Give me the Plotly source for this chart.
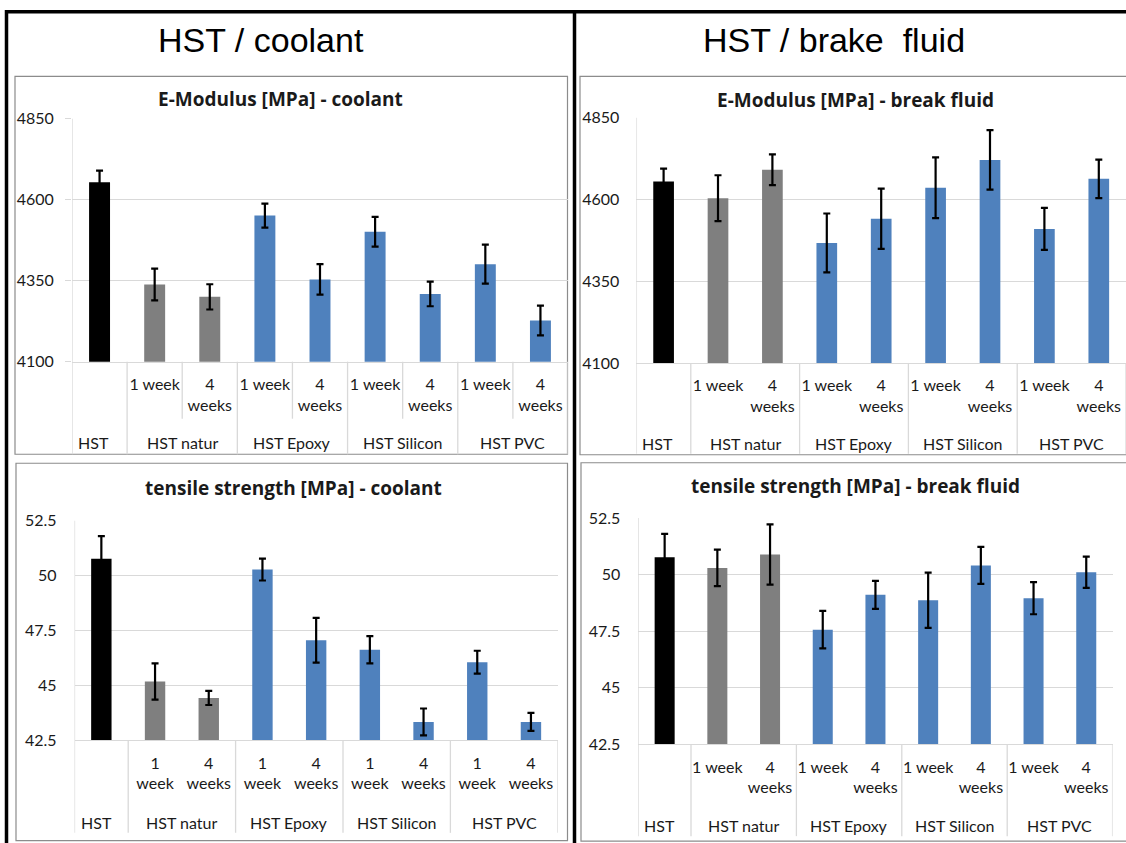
import plotly.graph_objects as go

W, H = 1126, 863

# ---------------- data ----------------
groups = ["HST", "HST natur", "HST Epoxy", "HST Silicon", "HST PVC"]
group_sizes = [1, 2, 2, 2, 2]

sub_labels_top = ["", "1 week", "4<br>weeks", "1 week", "4<br>weeks",
                  "1 week", "4<br>weeks", "1 week", "4<br>weeks"]
sub_labels_bl = ["", "1<br>week", "4<br>weeks", "1<br>week", "4<br>weeks",
                 "1<br>week", "4<br>weeks", "1<br>week", "4<br>weeks"]
sub_labels_br = sub_labels_top

bar_colors = ["#000000", "#7f7f7f", "#7f7f7f", "#4f81bd", "#4f81bd",
              "#4f81bd", "#4f81bd", "#4f81bd", "#4f81bd"]

emod_coolant = [4654, 4338, 4300, 4551, 4354, 4501, 4309, 4401, 4227]
emod_coolant_err = [36, 49, 39, 37, 47, 46, 38, 60, 46]
emod_brake = [4655, 4604, 4691, 4467, 4541, 4636, 4721, 4510, 4663]
emod_brake_err = [39, 70, 47, 90, 92, 93, 91, 64, 59]
ts_coolant = [50.77, 45.18, 44.43, 50.28, 47.06, 46.63, 43.34, 46.06, 43.34]
ts_coolant_err = [1.03, 0.83, 0.32, 0.50, 1.02, 0.62, 0.61, 0.52, 0.41]
ts_brake = [50.77, 50.30, 50.89, 47.57, 49.11, 48.87, 50.41, 48.96, 50.11]
ts_brake_err = [1.03, 0.81, 1.33, 0.83, 0.62, 1.22, 0.82, 0.71, 0.69]

emod_ticks = [4100, 4350, 4600, 4850]
ts_ticks = [42.5, 45, 47.5, 50, 52.5]
ts_ticktext = ["42.5", "45", "47.5", "50", "52.5"]

main_titles = ["HST / coolant", "HST / brake\u00a0 fluid"]
chart_titles = ["E-Modulus [MPa] - coolant", "E-Modulus [MPa] - break fluid",
                "tensile strength [MPa] - coolant", "tensile strength [MPa] - break fluid"]

# ---------------- layout helpers (target pixels -> paper) ----------------
OFF, SC = 9.7, 0.977   # observed vertical mapping of the photographed page


def fx(x):
    return x / W


def fy(y):
    yp = (y - OFF) / SC
    return 1 - yp / H


GRID = "#d9d9d9"
BORDER = "#8c8c8c"
TXT = "#1a1a1a"
FONT = "Lato"
TFONT = "Open Sans"

panels = [
    dict(vals=emod_coolant, err=emod_coolant_err, sub=sub_labels_top,
         plot=(72, 118.3, 568, 361), box=(15, 76, 567.5, 453.5),
         sep_bottom=453.5, subsep_bottom=418, group_y=442,
         title=chart_titles[0], title_xy=(280, 98.5),
         yticks=emod_ticks, yticktext=[str(v) for v in emod_ticks],
         yrange=[4100, 4850], outside_ticks=True, ystand=8),
    dict(vals=emod_brake, err=emod_brake_err, sub=sub_labels_top,
         plot=(636.4, 117.3, 1126, 362.3), box=(580, 76, 1140, 454),
         sep_bottom=453, subsep_bottom=None, group_y=443,
         title=chart_titles[1], title_xy=(855, 100),
         yticks=emod_ticks, yticktext=[str(v) for v in emod_ticks],
         yrange=[4100, 4850], outside_ticks=False, ystand=16),
    dict(vals=ts_coolant, err=ts_coolant_err, sub=sub_labels_bl,
         plot=(74.5, 520, 557.8, 739.3), box=(16, 462.5, 567.5, 839.5),
         sep_bottom=831.7, subsep_bottom=None, group_y=821.7,
         title=chart_titles[2], title_xy=(293, 487),
         yticks=ts_ticks, yticktext=ts_ticktext,
         yrange=[42.5, 52.5], outside_ticks=False, ystand=17),
    dict(vals=ts_brake, err=ts_brake_err, sub=sub_labels_br,
         plot=(638.3, 517.3, 1112.6, 743.3), box=(581, 462, 1140, 840),
         sep_bottom=835, subsep_bottom=None, group_y=824.3,
         title=chart_titles[3], title_xy=(855, 485),
         yticks=ts_ticks, yticktext=ts_ticktext,
         yrange=[42.5, 52.5], outside_ticks=False, ystand=17),
]

fig = go.Figure()
shapes = []
annotations = []
layout_axes = {}

cat_x = list(range(len(emod_coolant)))

bounds = [-0.5]
centers = []
for n in group_sizes:
    centers.append(bounds[-1] + n / 2)
    bounds.append(bounds[-1] + n)

for i, p in enumerate(panels):
    k = "" if i == 0 else str(i + 1)
    xa, ya = "x" + k, "y" + k
    x0, yt, x1, yb = p["plot"]

    bx0, by0, bx1, by1 = p["box"]
    shapes.append(dict(type="rect", xref="paper", yref="paper",
                       x0=fx(bx0), x1=fx(bx1), y0=fy(by1), y1=fy(by0),
                       line=dict(color=BORDER, width=1.2), layer="below"))

    fig.add_trace(go.Bar(
        x=cat_x, y=p["vals"], xaxis=xa, yaxis=ya, width=0.38,
        marker=dict(color=bar_colors, line=dict(width=0)),
        error_y=dict(type="data", array=p["err"], visible=True,
                     color="#000000", thickness=2.2, width=3.5),
        showlegend=False, hoverinfo="skip"))

    layout_axes["xaxis" + k] = dict(
        domain=[fx(x0), fx(x1)], anchor=ya, range=[-0.5, 8.5],
        tickvals=cat_x, ticktext=p["sub"], tickangle=0, ticks="",
        showgrid=False, zeroline=False, showline=True, linecolor=GRID,
        linewidth=1, ticklabelstandoff=8,
        tickfont=dict(family=FONT, size=16, color=TXT), fixedrange=True)
    layout_axes["yaxis" + k] = dict(
        domain=[fy(yb), fy(yt)], anchor=xa, range=p["yrange"],
        tickvals=p["yticks"], ticktext=p["yticktext"],
        showgrid=True, gridcolor=GRID, gridwidth=1, zeroline=False,
        showline=False,
        ticks="outside" if p["outside_ticks"] else "",
        ticklen=6, tickcolor=GRID, tickwidth=1,
        ticklabelstandoff=p["ystand"],
        tickfont=dict(family=FONT, size=16, color=TXT), fixedrange=True)

    shapes.append(dict(type="line", xref=xa, yref="paper",
                       x0=bounds[0], x1=bounds[0],
                       y0=fy(p["sep_bottom"]), y1=fy(yt),
                       line=dict(color=GRID, width=1.3)))
    for b in bounds[1:]:
        shapes.append(dict(type="line", xref=xa, yref="paper",
                           x0=b, x1=b, y0=fy(p["sep_bottom"]), y1=fy(yb),
                           line=dict(color=GRID, width=1.3)))
    if p["subsep_bottom"] is not None:
        for b in bounds[1:-1]:
            mid = b + 1
            shapes.append(dict(type="line", xref=xa, yref="paper",
                               x0=mid, x1=mid, y0=fy(p["subsep_bottom"]), y1=fy(yb),
                               line=dict(color=GRID, width=1.3)))

    for g, c in zip(groups, centers):
        if g == "HST":
            annotations.append(dict(x=bounds[0], y=fy(p["group_y"]), xref=xa, yref="paper",
                                    text=g, showarrow=False, xanchor="left", xshift=4,
                                    yanchor="middle",
                                    font=dict(family=FONT, size=16, color=TXT)))
        else:
            annotations.append(dict(x=c, y=fy(p["group_y"]), xref=xa, yref="paper",
                                    text=g, showarrow=False, xanchor="center",
                                    yanchor="middle",
                                    font=dict(family=FONT, size=16, color=TXT)))

    tx, ty = p["title_xy"]
    annotations.append(dict(x=fx(tx), y=fy(ty), xref="paper", yref="paper",
                            text="<b>" + p["title"] + "</b>", showarrow=False,
                            xanchor="center", yanchor="middle",
                            font=dict(family=TFONT, size=19, color=TXT)))

for t, cx in zip(main_titles, [260.5, 833.5]):
    annotations.append(dict(x=fx(cx), y=fy(40), xref="paper", yref="paper",
                            text=t, showarrow=False, xanchor="center", yanchor="middle",
                            font=dict(family="Liberation Sans", size=34, color="#000000")))

frame = dict(color="#000000", width=3.5)
top_line = 1 - 1.75 / H
shapes.append(dict(type="line", xref="paper", yref="paper",
                   x0=fx(6.5), x1=fx(6.5), y0=0, y1=1, line=frame))
shapes.append(dict(type="line", xref="paper", yref="paper",
                   x0=fx(5), x1=1, y0=top_line, y1=top_line, line=frame))
shapes.append(dict(type="line", xref="paper", yref="paper",
                   x0=fx(574.5), x1=fx(574.5), y0=0, y1=top_line, line=frame))

fig.update_layout(
    width=W, height=H, margin=dict(l=0, r=0, t=0, b=0),
    paper_bgcolor="white", plot_bgcolor="rgba(0,0,0,0)",
    shapes=shapes, annotations=annotations, bargap=0.62,
    **layout_axes)

fig.write_html(
    "out.html",
    config={"displayModeBar": False},
    post_script=(
        "document.documentElement.style.cssText='margin:0;padding:0;overflow:hidden;';"
        "document.body.style.cssText='margin:0;padding:0;overflow:hidden;';"
        "var gd=document.getElementById('{plot_id}');"
        "gd.style.position='absolute';gd.style.top='0px';gd.style.left='0px';"
    ),
)
